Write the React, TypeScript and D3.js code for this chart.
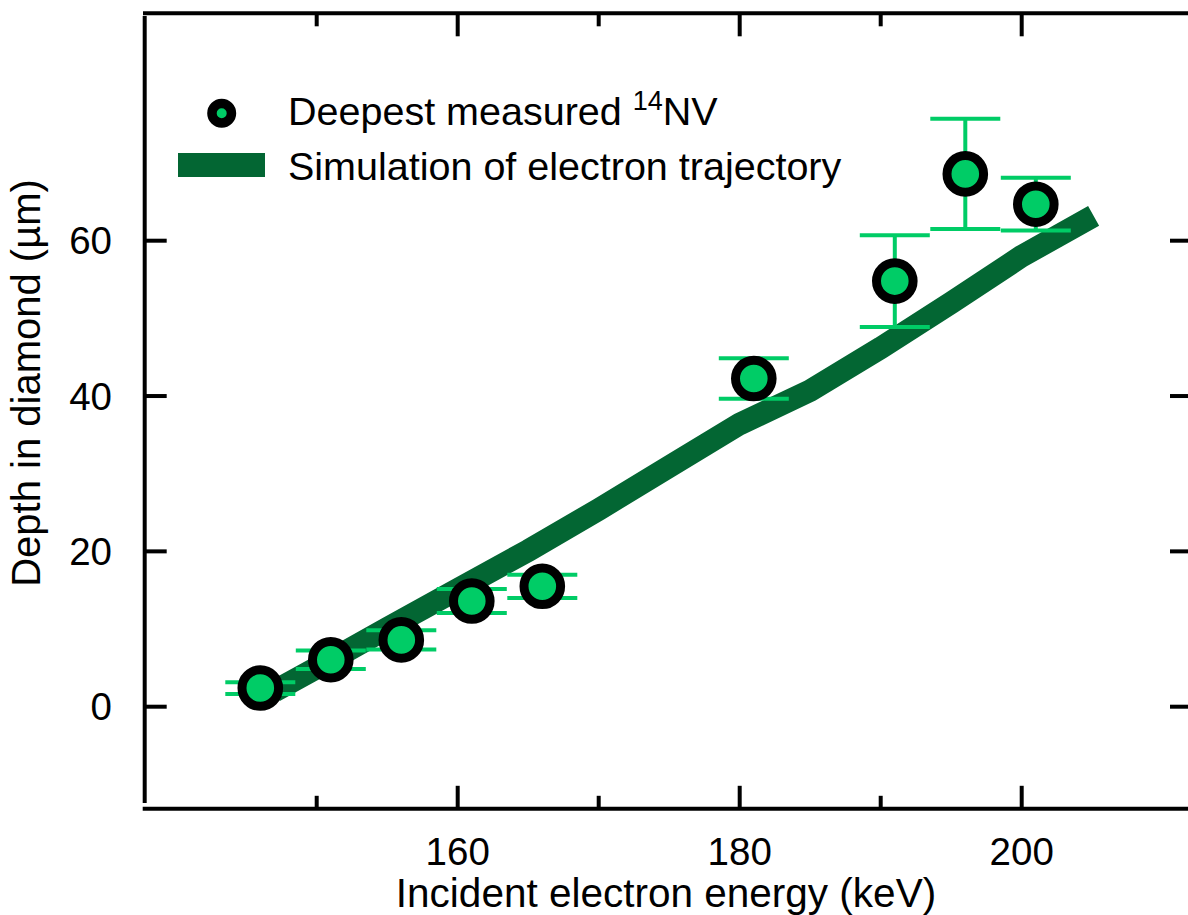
import React from "react";
import * as d3 from "d3";

// ---- data ----
const energies = [146, 151, 156, 161, 166, 181, 191, 196, 201];
const depths = [2.4, 6.05, 8.6, 13.6, 15.5, 42.25, 54.8, 68.6, 64.7];
const errors = [0.75, 1.2, 1.25, 1.55, 1.5, 2.6, 5.9, 7.1, 3.4];

const simEnergy = [147, 150, 155, 160, 165, 170, 175, 180, 185, 190, 195, 200, 205.1];
const simDepth = [2.0, 5.0, 10.1, 15.1, 20.1, 25.4, 30.9, 36.4, 40.7, 46.2, 52.0, 58.0, 63.2];

const xMajorTicks = [160, 180, 200];
const xMinorTicks = [150, 170, 190];
const yTicks = [0, 20, 40, 60];

const FONT = "'Liberation Sans', Arial, Helvetica, sans-serif";
const LIGHT = "#00cc66";
const DARK = "#036633";

export default function App() {
  const x = d3.scaleLinear().domain([160, 200]).range([457.7, 1021.7]);
  const y = d3.scaleLinear().domain([0, 60]).range([706.7, 240.7]);

  const leftX = 144.7;
  const rightX = 1192;
  const topY = 13.3;
  const bottomY = 808.8;

  const line = d3
    .line<number>()
    .x((_, i) => x(simEnergy[i]))
    .y((d) => y(d))
    .curve(d3.curveLinear);

  return (
    <svg
      width={1188}
      height={915}
      style={{ position: "absolute", left: 0, top: 0, background: "#fff" }}
      fontFamily={FONT}
    >
      <rect x={0} y={0} width={1188} height={915} fill="#fff" />
      {/* axes */}
      <g stroke="#000" strokeWidth={4} fill="none">
        <line x1={leftX} x2={leftX} y1={16} y2={803} />
        <line x1={142.7} x2={1188} y1={bottomY} y2={bottomY} />
        <line x1={143} x2={1188} y1={topY} y2={topY} />
        {xMajorTicks.map((t) => (
          <g key={"xm" + t}>
            <line x1={x(t)} x2={x(t)} y1={bottomY} y2={bottomY - 23} />
            <line x1={x(t)} x2={x(t)} y1={topY} y2={topY + 23} />
          </g>
        ))}
        {xMinorTicks.map((t) => (
          <g key={"xn" + t}>
            <line x1={x(t)} x2={x(t)} y1={bottomY} y2={bottomY - 13} />
            <line x1={x(t)} x2={x(t)} y1={topY} y2={topY + 13} />
          </g>
        ))}
        {yTicks.map((t) => (
          <g key={"y" + t}>
            <line x1={leftX} x2={leftX + 22} y1={y(t)} y2={y(t)} />
            <line x1={rightX} x2={rightX - 22} y1={y(t)} y2={y(t)} />
          </g>
        ))}
      </g>

      {/* tick labels */}
      <g fontSize={38.5} fill="#000">
        {xMajorTicks.map((t) => (
          <text key={"xl" + t} x={x(t)} y={865} textAnchor="middle">
            {t}
          </text>
        ))}
        {yTicks.map((t) => (
          <text key={"yl" + t} x={112} y={y(t) + 13.5} textAnchor="end">
            {t}
          </text>
        ))}
      </g>

      {/* axis titles */}
      <text x={666} y={907} textAnchor="middle" fontSize={40.5} fill="#000">
        Incident electron energy (keV)
      </text>
      <text
        transform={`translate(40,383) rotate(-90)`}
        textAnchor="middle"
        fontSize={40}
        fill="#000"
      >
        Depth in diamond (µm)
      </text>

      {/* simulation line */}
      <path d={line(simDepth) || ""} fill="none" stroke={DARK} strokeWidth={22.5} strokeLinecap="butt" />

      {/* error bars */}
      <g stroke={LIGHT} strokeWidth={4}>
        {energies.map((e, i) => {
          const cx = x(e);
          const y1 = y(depths[i] + errors[i]);
          const y2 = y(depths[i] - errors[i]);
          return (
            <g key={"e" + i}>
              <line x1={cx} x2={cx} y1={y1} y2={y2} />
              <line x1={cx - 35} x2={cx + 35} y1={y1} y2={y1} />
              <line x1={cx - 35} x2={cx + 35} y1={y2} y2={y2} />
            </g>
          );
        })}
      </g>

      {/* markers */}
      <g>
        {energies.map((e, i) => (
          <circle key={"m" + i} cx={x(e)} cy={y(depths[i])} r={18.3} fill={LIGHT} stroke="#000" strokeWidth={9} />
        ))}
      </g>

      {/* legend */}
      <circle cx={221.7} cy={113.3} r={9.75} fill={LIGHT} stroke="#000" strokeWidth={9.5} />
      <text x={288} y={125} fontSize={39.5} fill="#000">
        Deepest measured{" "}
        <tspan fontSize={27} dy={-15}>
          14
        </tspan>
        <tspan dy={15}>NV</tspan>
      </text>
      <rect x={178} y={153} width={87} height={24} fill={DARK} />
      <text x={288} y={180} fontSize={39.5} fill="#000">
        Simulation of electron trajectory
      </text>
    </svg>
  );
}
